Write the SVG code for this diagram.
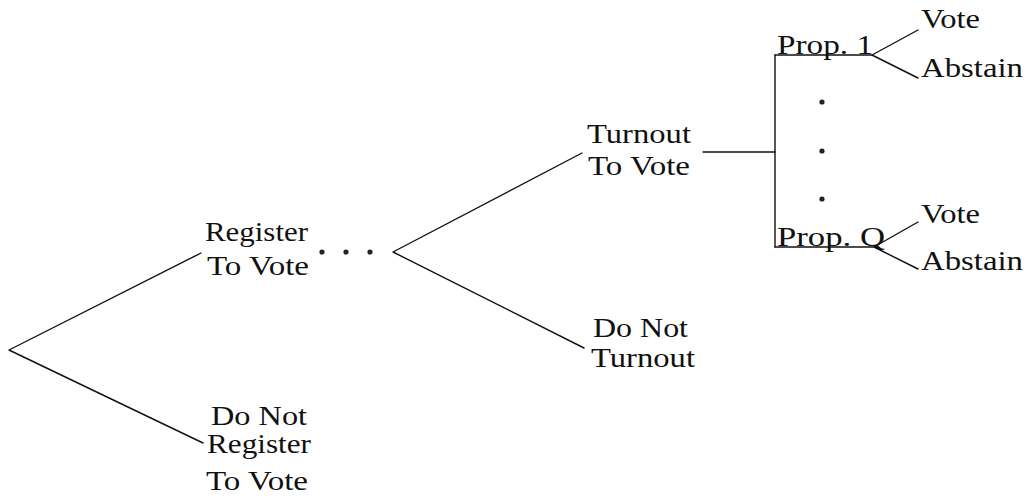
<svg xmlns="http://www.w3.org/2000/svg" width="1031" height="501" viewBox="0 0 1031 501">
<style>
  .t { font-family: 'Liberation Serif', 'DejaVu Serif', 'Times New Roman', serif; font-size: 27px; fill: #111; }
  .ln { stroke: #111; stroke-width: 1.4; fill: none; stroke-linecap: round; stroke-linejoin: round; }
  .dot { fill: #222; }
</style>
<rect x="0" y="0" width="1031" height="501" fill="#fff"/>
<g id="connectors">
  <polyline class="ln" points="201,253 9,350 203,443"/>
  <polyline class="ln" points="582,153 393,252 584,348"/>
  <line class="ln" x1="703" y1="152" x2="775" y2="152"/>
  <line class="ln" x1="775" y1="55" x2="775" y2="247"/>
  <line class="ln" x1="775" y1="55" x2="872" y2="55"/>
  <line class="ln" x1="775" y1="247" x2="874" y2="247"/>
  <polyline class="ln" points="918,30 872,55 918,78"/>
  <polyline class="ln" points="918,222 874,247 918,269"/>
</g>
<g id="ellipsis-h">
  <circle class="dot" cx="322" cy="252" r="2.6"/>
  <circle class="dot" cx="346" cy="252" r="2.6"/>
  <circle class="dot" cx="370" cy="252" r="2.6"/>
</g>
<g id="ellipsis-v">
  <circle class="dot" cx="822" cy="102" r="2.6"/>
  <circle class="dot" cx="822" cy="151" r="2.6"/>
  <circle class="dot" cx="822" cy="199" r="2.6"/>
</g>
<g id="register" font-family="Liberation Serif, DejaVu Serif, serif">
  <text class="t" x="205" y="241" textLength="103" lengthAdjust="spacingAndGlyphs">Register</text>
  <text class="t" x="207" y="275" textLength="102" lengthAdjust="spacingAndGlyphs">To Vote</text>
</g>
<g id="not-register">
  <text class="t" x="211" y="425" textLength="96" lengthAdjust="spacingAndGlyphs">Do Not</text>
  <text class="t" x="207" y="453" textLength="104" lengthAdjust="spacingAndGlyphs">Register</text>
  <text class="t" x="206" y="490" textLength="102" lengthAdjust="spacingAndGlyphs">To Vote</text>
</g>
<g id="turnout">
  <text class="t" x="587" y="143" textLength="104" lengthAdjust="spacingAndGlyphs">Turnout</text>
  <text class="t" x="588" y="175" textLength="102" lengthAdjust="spacingAndGlyphs">To Vote</text>
</g>
<g id="not-turnout">
  <text class="t" x="593" y="337" textLength="95" lengthAdjust="spacingAndGlyphs">Do Not</text>
  <text class="t" x="591" y="367" textLength="104" lengthAdjust="spacingAndGlyphs">Turnout</text>
</g>
<g id="prop1">
  <text class="t" x="777" y="54" textLength="96" lengthAdjust="spacingAndGlyphs">Prop. 1</text>
</g>
<g id="prop1-vote">
  <text class="t" x="921" y="28" textLength="59" lengthAdjust="spacingAndGlyphs">Vote</text>
</g>
<g id="prop1-abstain">
  <text class="t" x="921" y="77" textLength="102" lengthAdjust="spacingAndGlyphs">Abstain</text>
</g>
<g id="propQ">
  <text class="t" x="777" y="246" textLength="108" lengthAdjust="spacingAndGlyphs">Prop. Q</text>
</g>
<g id="propQ-vote">
  <text class="t" x="921" y="223" textLength="59" lengthAdjust="spacingAndGlyphs">Vote</text>
</g>
<g id="propQ-abstain">
  <text class="t" x="921" y="270" textLength="102" lengthAdjust="spacingAndGlyphs">Abstain</text>
</g>
</svg>
